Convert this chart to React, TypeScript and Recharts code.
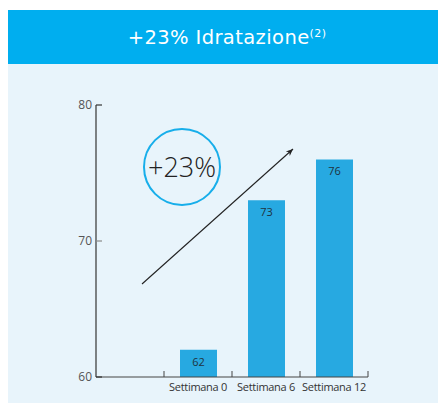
import React from 'react';
import { BarChart, Bar, XAxis, YAxis, LabelList } from 'recharts';

const categories = ['', 'Settimana 0', 'Settimana 6', 'Settimana 12'];
const values: (number | null)[] = [null, 62, 73, 76];
const yTicks = [60, 70, 80];
const titleText = '+23% Idratazione';
const titleSup = '(2)';
const badgeText = '+23%';

const data = categories.map((c, i) => ({ name: c, value: values[i] }));

const W = 438;
const H = 339;
const M = { top: 41, right: 78, left: 28, bottom: 6 };
const Y_W = 60;
const PLOT_W = W - M.left - Y_W - M.right;
const BAND = PLOT_W / categories.length;

const YTick = (props: any) => {
  const { x, y, payload } = props;
  const col = payload.value === 70 ? '#8a8a8a' : '#333';
  return (
    <g>
      <line x1={x} x2={x + 6} y1={y} y2={y} stroke={col} strokeWidth={1.2} />
      <text x={x - 4} y={y} dy={4} textAnchor="end" fontSize={12} fill="#555" fontFamily="Open Sans">
        {payload.value}
      </text>
    </g>
  );
};

const XTick = (props: any) => {
  const { x, y, payload } = props;
  const bx = x + BAND / 2;
  return (
    <g>
      <line x1={bx} x2={bx} y1={y} y2={y - 6} stroke="#444" strokeWidth={1} />
      {payload.value ? (
        <text x={x} y={y + 14} textAnchor="middle" fontSize={11} fill="#333" fontFamily="Open Sans" letterSpacing={-0.3}>
          {payload.value}
        </text>
      ) : null}
    </g>
  );
};

export default function App() {
  return (
    <div style={{ width: W, marginTop: 2, position: 'relative' }}>
      <style>{`html,body{overflow:hidden}`}</style>
      <div
        style={{
          height: 54,
          background: '#00AEEF',
          color: '#fff',
          display: 'flex',
          alignItems: 'center',
          justifyContent: 'center',
          fontFamily: 'DejaVu Sans, sans-serif',
          fontSize: 19.5,
          letterSpacing: 0.4,
          paddingTop: 1,
          boxSizing: 'border-box',
        }}
      >
        <span>
          {titleText}
          <sup style={{ fontSize: 11 }}>{titleSup}</sup>
        </span>
      </div>
      <div style={{ position: 'relative', width: W, height: H, background: '#E8F4FB' }}>
        <BarChart width={W} height={H} data={data} margin={M} barSize={37}>
          <YAxis
            width={Y_W}
            domain={[60, 80]}
            ticks={yTicks}
            tickSize={0}
            tickMargin={0}
            tick={<YTick />}
            axisLine={{ stroke: '#333', strokeWidth: 1.2 }}
            tickLine={false}
          />
          <XAxis
            dataKey="name"
            height={20}
            tickSize={0}
            tickMargin={0}
            interval={0}
            tick={<XTick />}
            axisLine={{ stroke: '#444', strokeWidth: 1.2 }}
            tickLine={false}
          />
          <Bar dataKey="value" fill="#27A9E1" isAnimationActive={false}>
            <LabelList dataKey="value" position="insideTop" offset={8} fontSize={11} fill="#1f3340" fontFamily="Open Sans" />
          </Bar>
        </BarChart>
        <svg width={W} height={H} style={{ position: 'absolute', left: 0, top: 0, pointerEvents: 'none' }}>
          <defs>
            <marker id="ah" markerWidth="8" markerHeight="8" refX="7" refY="4" orient="auto" markerUnits="userSpaceOnUse">
              <path d="M0,1 L7,4 L0,7 L2,4 Z" fill="#222" />
            </marker>
          </defs>
          <line x1={134} y1={220} x2={285} y2={85} stroke="#222" strokeWidth={1.1} markerEnd="url(#ah)" />
          <circle cx={174} cy={103} r={38} fill="none" stroke="#17AEEA" strokeWidth={2} />
          <text x={174} y={113} textAnchor="middle" fontSize={27} fill="#222" fontFamily="Open Sans" fontWeight={300}>
            {badgeText}
          </text>
        </svg>
      </div>
    </div>
  );
}
